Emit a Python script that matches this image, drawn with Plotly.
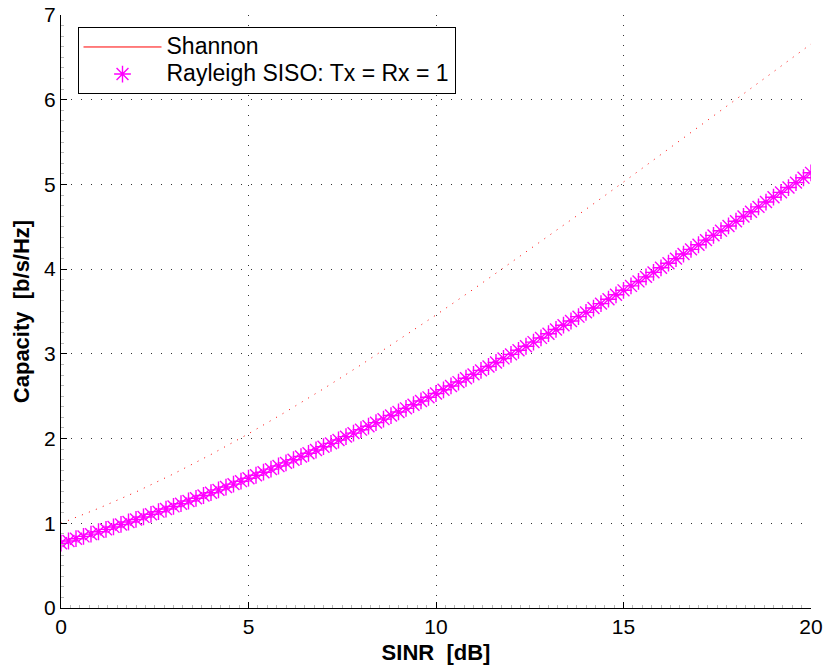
import plotly.graph_objects as go

# SINR grid for the Rayleigh curve (0.2 dB steps) and for the Shannon bound (1 dB steps)
sinr_rayleigh_db = [round(0.2 * k, 1) for k in range(101)]
rayleigh_capacity = [
    0.765, 0.791, 0.818, 0.845, 0.872, 0.900,
    0.928, 0.957, 0.986, 1.015, 1.045,
    1.075, 1.106, 1.137, 1.168, 1.199,
    1.231, 1.263, 1.295, 1.328, 1.361,
    1.394, 1.428, 1.462, 1.497, 1.532,
    1.567, 1.603, 1.639, 1.676, 1.713,
    1.750, 1.788, 1.826, 1.865, 1.904,
    1.943, 1.983, 2.023, 2.064, 2.105,
    2.146, 2.188, 2.229, 2.272, 2.314,
    2.357, 2.400, 2.444, 2.487, 2.532,
    2.576, 2.621, 2.667, 2.712, 2.758,
    2.805, 2.851, 2.898, 2.946, 2.994,
    3.042, 3.090, 3.139, 3.188, 3.238,
    3.288, 3.338, 3.388, 3.439, 3.490,
    3.541, 3.593, 3.645, 3.697, 3.750,
    3.802, 3.855, 3.909, 3.962, 4.016,
    4.070, 4.124, 4.178, 4.233, 4.288,
    4.343, 4.399, 4.454, 4.510, 4.566,
    4.622, 4.678, 4.735, 4.792, 4.849,
    4.906, 4.963, 5.021, 5.079, 5.137,
]

sinr_shannon_db = list(range(21))
shannon_capacity = [
    1.000, 1.176, 1.370, 1.583, 1.812, 2.057, 2.317, 2.588, 2.870, 3.161,
    3.459, 3.764, 4.075, 4.389, 4.707, 5.028, 5.351, 5.676, 6.002, 6.330,
    6.658,
]

x_ticks = [0, 5, 10, 15, 20]
y_ticks = [0, 1, 2, 3, 4, 5, 6, 7]

FONT = "Liberation Sans, Arial, Helvetica, sans-serif"
RED = "#FF0000"
MAGENTA = "#FF00FF"


def legend_label(text):
    # larger glyphs while keeping the legend rows compact
    return f'<span style="font-size:23px">{text}</span>'


fig = go.Figure()

# Shannon bound drawn as a dotted red curve
fig.add_trace(go.Scatter(
    x=sinr_shannon_db, y=shannon_capacity, mode="lines",
    line=dict(color=RED, width=1, dash="1px,6.5px"),
    showlegend=False, hoverinfo="skip",
))
# legend entry for the Shannon bound (solid line sample)
fig.add_trace(go.Scatter(
    x=[None], y=[None], mode="lines", name=legend_label("Shannon"),
    line=dict(color=RED, width=1),
))
# Rayleigh SISO ergodic capacity, asterisk markers
fig.add_trace(go.Scatter(
    x=sinr_rayleigh_db, y=rayleigh_capacity, mode="markers",
    name=legend_label("Rayleigh SISO: Tx = Rx = 1"),
    marker=dict(symbol="asterisk-open", size=14,
                line=dict(color=MAGENTA, width=1.4), color=MAGENTA),
))

axis_common = dict(
    showline=True, linecolor="black", linewidth=1, mirror=False,
    ticks="inside", ticklen=6, tickcolor="black", tickwidth=1,
    showgrid=True, gridcolor="#333333", gridwidth=1, griddash="1px,9px",
    zeroline=False,
    tickfont=dict(family=FONT, size=21, color="black"),
    minor=dict(ticks="inside", ticklen=3, tickcolor="#bbbbbb", showgrid=False),
)

fig.update_xaxes(
    range=[0, 20], tickvals=x_ticks, ticktext=[str(v) for v in x_ticks],
    title=dict(text="<b>SINR\u00a0 [dB]</b>", font=dict(family=FONT, size=22, color="black"),
               standoff=7),
    **axis_common,
)
fig.update_xaxes(minor_dtick=0.25)
fig.update_yaxes(
    range=[0, 7], tickvals=y_ticks, ticktext=[str(v) for v in y_ticks],
    title=dict(text="<b>Capacity\u00a0 [b/s/Hz]</b>", font=dict(family=FONT, size=22, color="black"),
               standoff=8),
    **axis_common,
)
fig.update_yaxes(minor_dtick=0.125)

fig.update_layout(
    width=826, height=671,
    margin=dict(l=60.5, r=14.5, t=15.3, b=63.3, autoexpand=False),
    paper_bgcolor="white", plot_bgcolor="white",
    font=dict(family=FONT, size=21, color="black"),
    legend=dict(
        x=0.022, y=0.979, xanchor="left", yanchor="top",
        bgcolor="white", bordercolor="black", borderwidth=1,
        font=dict(family=FONT, size=18.5, color="black"),
        itemwidth=78, traceorder="normal",
    ),
)

fig.write_html("out.html")
